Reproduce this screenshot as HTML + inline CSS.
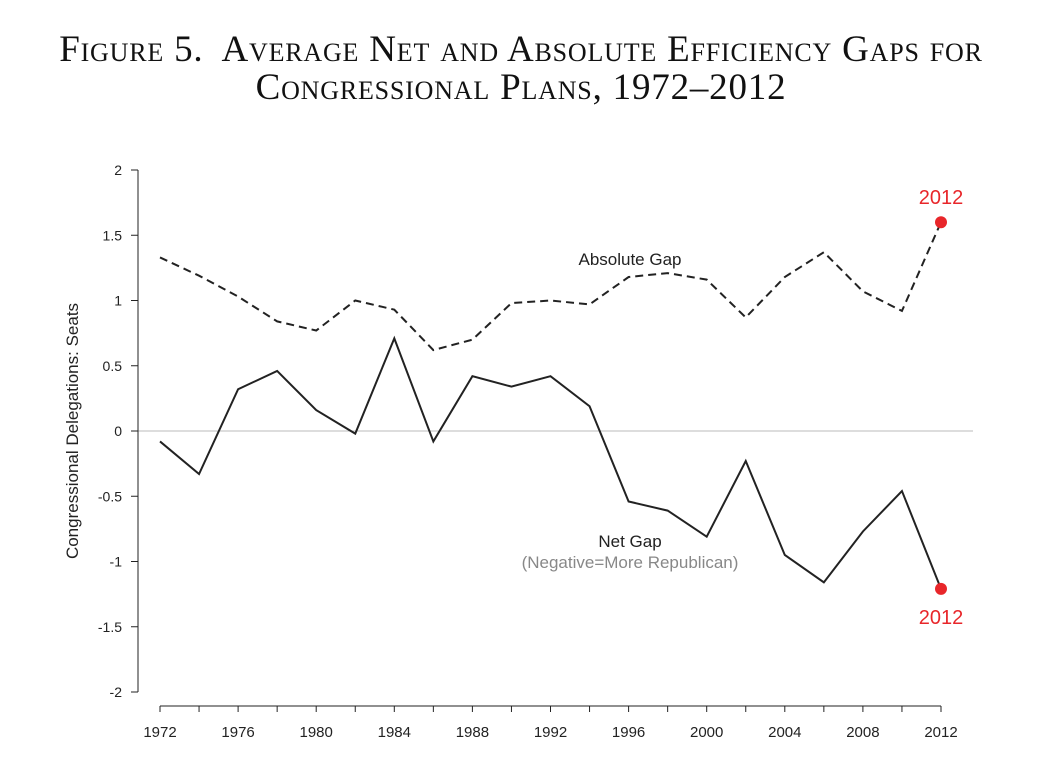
<!DOCTYPE html>
<html><head><meta charset="utf-8"><style>
body{margin:0;background:#fff;width:1042px;height:780px;overflow:hidden}
.t{position:absolute;left:0;width:1042px;text-align:center;font-family:"Liberation Serif",serif;font-size:37px;line-height:37px;font-variant:small-caps;color:#111;white-space:nowrap;letter-spacing:0.8px}
</style></head><body>
<div class="t" style="top:31px">Figure 5.&nbsp; Average Net and Absolute Efficiency Gaps for</div>
<div class="t" style="top:69px">Congressional Plans, 1972–2012</div>
<svg id="c" width="1042" height="780" style="position:absolute;left:0;top:0" font-family="Liberation Sans, sans-serif"></svg>
<script>
const years=[1972,1974,1976,1978,1980,1982,1984,1986,1988,1990,1992,1994,1996,1998,2000,2002,2004,2006,2008,2010,2012];
const netGap=[-0.08,-0.33,0.32,0.46,0.16,-0.02,0.71,-0.08,0.42,0.34,0.42,0.19,-0.54,-0.61,-0.81,-0.23,-0.95,-1.16,-0.77,-0.46,-1.21];
const absGap=[1.33,1.19,1.03,0.84,0.77,1.00,0.93,0.62,0.70,0.98,1.00,0.97,1.18,1.21,1.16,0.87,1.18,1.37,1.07,0.92,1.60];
const yTicks=[2,1.5,1,0.5,0,-0.5,-1,-1.5,-2];
const yTickLabels=["2","1.5","1","0.5","0","-0.5","-1","-1.5","-2"];
const xTicks=[1972,1976,1980,1984,1988,1992,1996,2000,2004,2008,2012];
const svg=document.getElementById('c');
const NS='http://www.w3.org/2000/svg';
const X=v=>160+(v-1972)*(941-160)/40;
const Y=v=>431-v*130.5;
function mk(tag,attrs,text){const e=document.createElementNS(NS,tag);for(const k in attrs)e.setAttribute(k,attrs[k]);if(text!==undefined)e.textContent=text;svg.appendChild(e);return e;}
let e;
e=mk('line',{x1:138,x2:973,y1:Y(0),y2:Y(0),stroke:'#bbb','stroke-width':1});


e=mk('line',{x1:138,x2:138,y1:Y(2),y2:Y(-2),stroke:'#222','stroke-width':1});


yTicks.forEach((v,i)=>{
 e=mk('line',{x1:131,x2:138,y1:Y(v),y2:Y(v),stroke:'#222'});
 
 
 e=mk('text',{x:122,y:Y(v)+5,'text-anchor':'end','font-size':14,fill:'#222'},yTickLabels[i]);
 
 
});
e=mk('line',{x1:X(1972),x2:X(2012),y1:706,y2:706,stroke:'#222'});


years.forEach(v=>{
 e=mk('line',{x1:X(v),x2:X(v),y1:706,y2:712,stroke:'#222'});
 
 
});
xTicks.forEach(v=>{
 e=mk('text',{x:X(v),y:737,'text-anchor':'middle','font-size':15,fill:'#222'},String(v));
 
 
});
e=mk('text',{x:78,y:431,'text-anchor':'middle','font-size':17,fill:'#222',transform:'rotate(-90 78 431)'},'Congressional Delegations: Seats');


const pts=a=>a.map((v,i)=>X(years[i])+','+Y(v)).join(' ');
e=mk('polyline',{points:pts(absGap),fill:'none',stroke:'#222','stroke-width':2,'stroke-dasharray':'8,5'});


e=mk('polyline',{points:pts(netGap),fill:'none',stroke:'#222','stroke-width':2});


const last=years.length-1;
e=mk('circle',{cx:X(years[last]),cy:Y(absGap[last]),r:6,fill:'#e8262a'});


e=mk('circle',{cx:X(years[last]),cy:Y(netGap[last]),r:6,fill:'#e8262a'});


e=mk('text',{x:X(years[last]),y:Y(absGap[last])-18,'text-anchor':'middle','font-size':20,fill:'#e8262a'},'2012');


e=mk('text',{x:X(years[last]),y:Y(netGap[last])+35,'text-anchor':'middle','font-size':20,fill:'#e8262a'},'2012');


e=mk('text',{x:630,y:265,'text-anchor':'middle','font-size':17,fill:'#222'},'Absolute Gap');


e=mk('text',{x:630,y:547,'text-anchor':'middle','font-size':17,fill:'#222'},'Net Gap');


e=mk('text',{x:630,y:568,'text-anchor':'middle','font-size':17,fill:'#888'},'(Negative=More Republican)');


</script>
</body></html>
